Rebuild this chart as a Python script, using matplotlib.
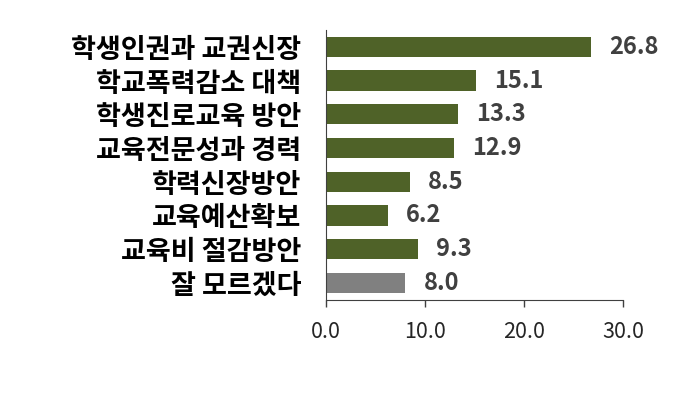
import matplotlib.pyplot as plt
import numpy as np

plt.rcParams['font.family'] = ['Noto Sans CJK KR', 'DejaVu Sans']

labels = ["학생인권과 교권신장", "학교폭력감소 대책", "학생진로교육 방안", "교육전문성과 경력",
          "학력신장방안", "교육예산확보", "교육비 절감방안", "잘 모르겠다"]
values = [26.8, 15.1, 13.3, 12.9, 8.5, 6.2, 9.3, 8.0]
colors = ["#4f6228"] * 7 + ["#808080"]
xticks = [0, 10, 20, 30]

fig = plt.figure(figsize=(7, 3.94), dpi=100)
ax = fig.add_axes([0.466, 0.239, 0.424, 0.685])

y = np.arange(len(labels))
ax.barh(y, values, height=0.6, color=colors)
for yi, v in zip(y, values):
    ax.annotate(f"{v:.1f}", (v, yi), xytext=(13, 0), textcoords='offset points',
                va='center', ha='left', fontsize=17, fontweight='bold', color='#404040')

ax.set_xlim(0, 30)
ax.set_ylim(len(labels) - 0.5, -0.5)
ax.set_yticks(y)
ax.set_yticklabels(labels, fontsize=19.5, fontweight='bold', color='black')
ax.tick_params(axis='y', length=0, pad=18)
ax.set_xticks(xticks)
ax.set_xticklabels([f"{t:.1f}" for t in xticks], fontsize=15.5, color='#262626')
ax.tick_params(axis='x', length=5, width=1, color='#404040', pad=10)
for s in ['top', 'right']:
    ax.spines[s].set_visible(False)
for s in ['left', 'bottom']:
    ax.spines[s].set_color('#404040')

plt.savefig("out.png", dpi=100)
